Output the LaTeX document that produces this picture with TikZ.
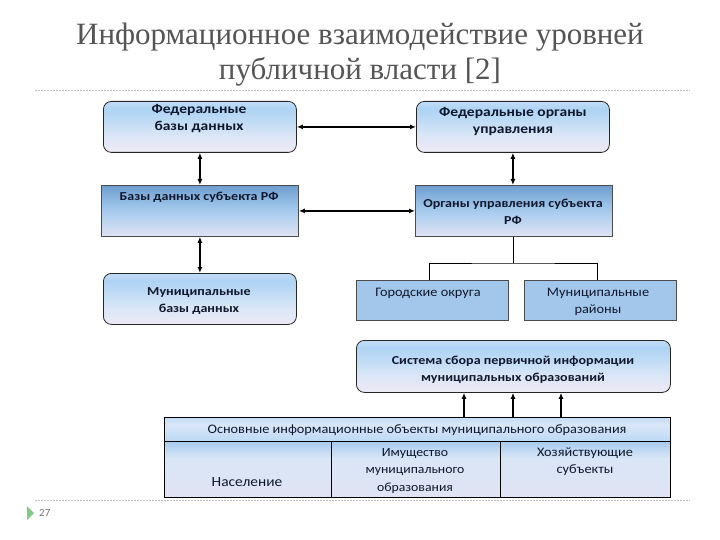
\documentclass[tikz,border=0pt]{standalone}
\usepackage{fontspec}
\setmainfont{Carlito}
\newfontfamily\bodyb[FakeStretch=1.15]{Carlito}
\newfontfamily\bodyr[FakeStretch=1.1]{Carlito}
\newfontfamily\titlefont{Liberation Serif}
\usetikzlibrary{arrows.meta,positioning}
\definecolor{rbTop}{HTML}{C3DDF6}
\definecolor{rbHi}{HTML}{AED3F4}
\definecolor{rbMid}{HTML}{BCDAF5}
\definecolor{rbLow}{HTML}{D9E6F6}
\definecolor{rbBot}{HTML}{EEE9F5}
\definecolor{sqTop}{HTML}{6F9FD0}
\definecolor{sqMid}{HTML}{A7CBEE}
\definecolor{sqBot}{HTML}{E0E3F3}
\definecolor{flatBlue}{HTML}{A3C7EB}
\definecolor{txtCol}{HTML}{10182E}
\definecolor{titleGray}{HTML}{555555}
\pgfdeclareverticalshading{rboxsh}{100bp}{color(0bp)=(rbBot); color(25bp)=(rbBot); color(42bp)=(rbLow); color(58bp)=(rbMid); color(68bp)=(rbHi); color(75bp)=(rbTop); color(100bp)=(rbTop)}
\pgfdeclareverticalshading{sqboxsh}{100bp}{color(0bp)=(sqBot); color(25bp)=(sqBot); color(50bp)=(sqMid); color(75bp)=(sqTop); color(100bp)=(sqTop)}
\pgfdeclareverticalshading{headsh}{100bp}{color(0bp)=(rbMid); color(25bp)=(rbMid); color(60bp)=(rbLow); color(75bp)=(rbTop); color(100bp)=(rbTop)}
\pgfdeclareverticalshading{rowsh}{100bp}{color(0bp)=(sqBot); color(25bp)=(sqBot); color(60bp)=(rbLow); color(75bp)=(sqMid); color(100bp)=(sqMid)}
\begin{document}
\begin{tikzpicture}[x=1pt,y=-1pt,
  rbox/.style={draw=black!85, line width=0.8pt, rounded corners=8pt, shading=rboxsh, anchor=north west, inner sep=0pt},
  sqbox/.style={draw=black!70, line width=0.8pt, shading=sqboxsh, anchor=north west, inner sep=0pt},
  flatbox/.style={draw=black!70, line width=0.8pt, fill=flatBlue, anchor=north west, inner sep=0pt},
  txt/.style={font=\bodyb\fontsize{13.5}{17}\selectfont\bfseries, text=txtCol, align=center, inner sep=0pt},
  stxt/.style={font=\bodyb\fontsize{12.2}{17}\selectfont\bfseries, text=txtCol, align=center, inner sep=0pt},
  ltxt/.style={font=\bodyr\fontsize{13}{17}\selectfont, text=txtCol, align=center, inner sep=0pt},
  link/.style={line width=1.3pt, {Latex[length=6pt,width=5pt]}-{Latex[length=6pt,width=5pt]}},
  uplink/.style={line width=1.3pt, -{Latex[length=6pt,width=5pt]}},
  tree/.style={line width=1pt},
  sep/.style={draw=black!25, dash pattern=on 2pt off 1pt, line width=0.6pt}
]
\useasboundingbox (0,0) rectangle (720,540);
% title
\node[font=\titlefont\fontsize{31}{35}\selectfont, text=titleGray, align=center] (title) at (360,55) {Информационное взаимодействие уровней\\публичной власти [2]};
\coordinate (s1a) at (35,90); \coordinate (s1b) at (690,90);
\draw[sep] (s1a) -- (s1b);
\coordinate (s2a) at (35,500); \coordinate (s2b) at (690,500);
\draw[sep] (s2a) -- (s2b);
% page number
\fill[green!40!gray!70] (27,506) -- (34,513) -- (27,520) -- cycle;
\node[font=\fontsize{11}{13}\selectfont, text=black!55, anchor=west, inner sep=0pt] (pnum) at (39,513) {27};

% boxes
\node[rbox, minimum width=193pt, minimum height=51pt] (fdb) at (103,101) {};
\node[txt] (fdbt) at (199,119) {Федеральные\\базы данных};
\node[rbox, minimum width=193pt, minimum height=51pt] (fog) at (416,101) {};
\node[txt] (fogt) at (513,122) {Федеральные органы\\управления};
\node[sqbox, minimum width=197pt, minimum height=51pt] (sdb) at (101,185) {};
\node[stxt] (sdbt) at (199,197) {Базы данных субъекта РФ};
\node[sqbox, minimum width=197pt, minimum height=51pt] (sog) at (415,185) {};
\node[stxt] (sogt) at (513,211.5) {Органы управления субъекта\\РФ};
\node[rbox, minimum width=193pt, minimum height=51pt] (mdb) at (103,273) {};
\node[stxt] (mdbt) at (199,301.5) {Муниципальные\\базы данных};
\node[flatbox, minimum width=152pt, minimum height=40pt] (go) at (356,280) {};
\node[ltxt] (got) at (428,293) {Городские округа};
\node[flatbox, minimum width=152pt, minimum height=40pt] (mr) at (524,280) {};
\node[ltxt] (mrt) at (598,301.5) {Муниципальные\\районы};
\node[rbox, minimum width=314pt, minimum height=52pt] (ssi) at (356,340) {};
\node[stxt] (ssit) at (513,370) {Система сбора первичной информации\\муниципальных образований};

% table
\node[draw=black, line width=0.9pt, shading=headsh, anchor=north west, inner sep=0pt, minimum width=506pt, minimum height=24pt] (thead) at (164,417) {};
\node[ltxt] (theadt) at (417,430) {Основные информационные объекты муниципального образования};
\node[draw=black, line width=0.9pt, shading=rowsh, anchor=north west, inner sep=0pt, minimum width=167pt, minimum height=56pt] (c1) at (164,441) {};
\node[draw=black, line width=0.9pt, shading=rowsh, anchor=north west, inner sep=0pt, minimum width=169pt, minimum height=56pt] (c2) at (331,441) {};
\node[draw=black, line width=0.9pt, shading=rowsh, anchor=north west, inner sep=0pt, minimum width=170pt, minimum height=56pt] (c3) at (500,441) {};
\node[ltxt, font=\bodyr\fontsize{14}{17}\selectfont] (c1t) at (247,482) {Население};
\node[ltxt, font=\bodyr\fontsize{12.5}{17.5}\selectfont] (c2t) at (415,470.5) {Имущество\\муниципального\\образования};
\node[ltxt] (c3t) at (585,461.5) {Хозяйствующие\\субъекты};

% connectors
\draw[link] (fdb.east) -- (fog.west);
\draw[link] (sdb.east) -- (sog.west);
\draw[link] (fdb.south) -- (sdb.north -| fdb.south);
\draw[link] (fog.south) -- (sog.north -| fog.south);
\draw[link] (sdb.south -| fdb.south) -- (mdb.north);
\coordinate (tj) at (513,263);
\draw[tree] (sog.south -| tj) -- (tj);
\draw[tree] (go.north -| 429,0) |- (tj) -| (mr.north -| 597,0);
\draw[uplink] (thead.north -| 464,0) -- (ssi.south -| 464,0);
\draw[uplink] (thead.north -| 513,0) -- (ssi.south -| 513,0);
\draw[uplink] (thead.north -| 561,0) -- (ssi.south -| 561,0);
\end{tikzpicture}
\end{document}
